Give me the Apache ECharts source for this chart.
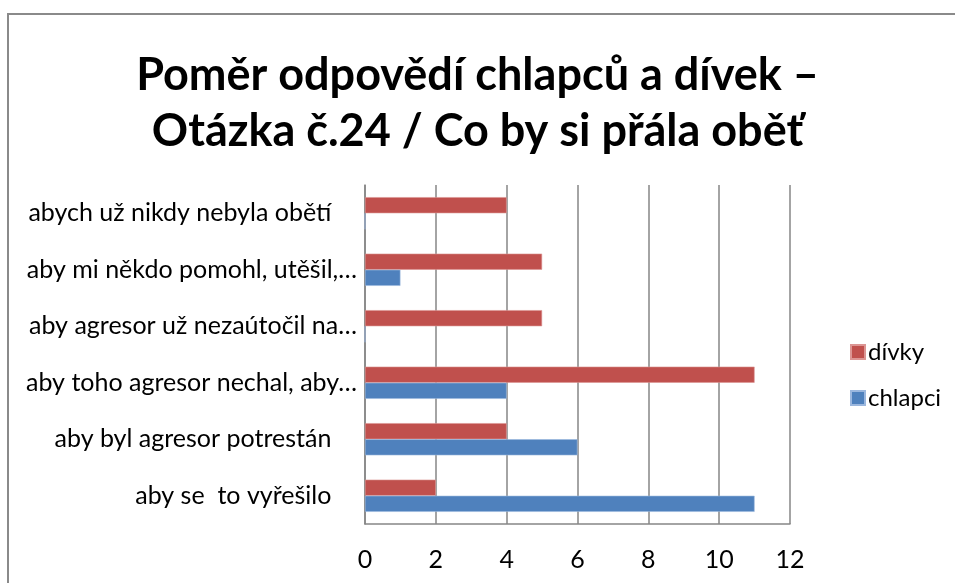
<!DOCTYPE html>
<html>
<head>
<meta charset="utf-8">
<script src="https://cdn.jsdelivr.net/npm/echarts@6/dist/echarts.min.js"></script>
<style>
html,body{margin:0;padding:0;background:#fff;}
#c{width:955px;height:583px;}
</style>
</head>
<body>
<div id="c"></div>
<script>
const categories = [
  'aby se  to vyřešilo    ',
  'aby byl agresor potrestán    ',
  'aby toho agresor nechal, aby…',
  'aby agresor už nezaútočil na…',
  'aby mi někdo pomohl, utěšil,…',
  'abych už nikdy nebyla obětí    '
];
const chlapci = [11, 6, 4, 0, 1, 0];
const divky = [2, 4, 11, 5, 5, 4];
const xTicks = [0, 2, 4, 6, 8, 10, 12];
const titleText = 'Poměr odpovědí chlapců a dívek –\nOtázka č.24 / Co by si přála oběť';

const FONT = 'Lato';
const chart = echarts.init(document.getElementById('c'), null, {renderer: 'canvas'});
chart.setOption({
  backgroundColor: '#fff',
  animation: false,
  title: {
    text: titleText,
    left: 'center',
    top: 42,
    textStyle: {fontFamily: FONT, fontWeight: 'bold', fontSize: 45, lineHeight: 56, color: '#000'}
  },
  legend: {
    orient: 'vertical',
    left: 845,
    top: 335,
    itemWidth: 14,
    itemHeight: 14,
    itemGap: 22,
    icon: 'rect',
    data: ['dívky', 'chlapci'],
    textStyle: {fontFamily: FONT, fontSize: 24, color: '#000', padding: [0, 0, 0, -2]}
  },
  grid: {left: 365, right: 165, top: 185, bottom: 59, containLabel: false},
  xAxis: {
    type: 'value',
    min: xTicks[0],
    max: xTicks[xTicks.length - 1],
    interval: 2,
    axisLine: {show: true, lineStyle: {color: '#868686', width: 1.5}},
    axisTick: {show: false},
    axisLabel: {fontFamily: FONT, fontSize: 25, color: '#000', margin: 23},
    splitLine: {show: true, lineStyle: {color: '#868686', width: 1.5}}
  },
  yAxis: {
    type: 'category',
    data: categories,
    axisLine: {show: true, lineStyle: {color: '#868686', width: 1.5}},
    axisTick: {show: false},
    axisLabel: {fontFamily: FONT, fontSize: 25, color: '#000', margin: 8}
  },
  series: [
    {
      name: 'dívky', type: 'bar', data: divky,
      barGap: '0%', barCategoryGap: '43%',
      itemStyle: {color: '#C0504D', borderColor: '#dc9593', borderWidth: 0.6}
    },
    {
      name: 'chlapci', type: 'bar', data: chlapci,
      barGap: '0%', barCategoryGap: '43%',
      itemStyle: {color: '#4F81BD', borderColor: '#9bb7de', borderWidth: 0.6}
    }
  ],
  graphic: [{
    type: 'rect',
    shape: {x: 8, y: 14, width: 1000, height: 700},
    style: {fill: 'none', stroke: '#8a8a8a', lineWidth: 2},
    silent: true
  }]
});
</script>
</body>
</html>
